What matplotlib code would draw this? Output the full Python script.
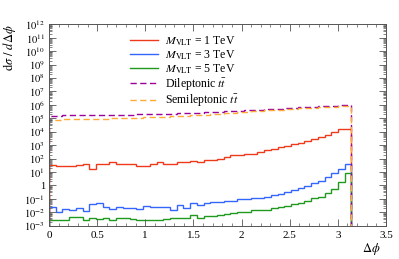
import matplotlib
matplotlib.use("Agg")
import matplotlib.pyplot as plt
import matplotlib.ticker as mticker
import numpy as np

plt.rcParams['font.family'] = ['Liberation Serif', 'DejaVu Serif']
plt.rcParams['mathtext.fontset'] = 'stix'

# 45 bins of delta phi between 0 and pi
n_bins = 45
phi_max = np.pi

vlt_1tev = [35, 27, 27, 27, 33, 38, 18, 42, 42, 53,
            38, 42, 42, 27, 30, 42, 53, 42, 42, 56,
            60, 66, 59, 80, 80, 100, 138, 178, 178, 234,
            209, 324, 437, 550, 692, 912, 1230, 1510, 2140, 2750,
            4270, 6030, 10000, 15100, 15100]
vlt_3tev = [0.023, 0.011, 0.017, 0.015, 0.022, 0.013, 0.042, 0.047, 0.026, 0.018,
            0.023, 0.020, 0.020, 0.018, 0.031, 0.023, 0.023, 0.023, 0.015, 0.035,
            0.020, 0.047, 0.035, 0.047, 0.056, 0.062, 0.074, 0.074, 0.093, 0.093,
            0.123, 0.123, 0.145, 0.195, 0.219, 0.35, 0.46, 0.68, 0.91, 1.45,
            2.24, 4.1, 7.9, 17, 40]
vlt_5tev = [0.0027, 0.0025, 0.0025, 0.0047, 0.0042, 0.0027, 0.0035, 0.0032, 0.0035, 0.0027,
            0.0040, 0.0035, 0.0030, 0.0028, 0.0028, 0.0027, 0.0027, 0.0030, 0.0035, 0.0040,
            0.0040, 0.0063, 0.0040, 0.0052, 0.0056, 0.0063, 0.0071, 0.0085, 0.011, 0.011,
            0.015, 0.015, 0.015, 0.020, 0.023, 0.031, 0.040, 0.052, 0.074, 0.11,
            0.145, 0.26, 0.55, 1.9, 7.9]
dileptonic = [1.60e5, 1.60e5, 1.62e5, 1.65e5, 1.66e5, 1.68e5, 1.70e5, 1.72e5, 1.75e5, 1.78e5,
              1.82e5, 1.86e5, 1.90e5, 1.95e5, 2.00e5, 2.05e5, 2.10e5, 2.15e5, 2.20e5, 2.30e5,
              2.40e5, 2.50e5, 2.60e5, 2.75e5, 2.90e5, 3.05e5, 3.20e5, 3.40e5, 3.60e5, 3.80e5,
              4.10e5, 4.40e5, 4.70e5, 5.00e5, 5.30e5, 5.60e5, 6.00e5, 6.40e5, 6.80e5, 7.30e5,
              7.80e5, 8.30e5, 8.90e5, 9.60e5, 10.3e5]
semileptonic = [0.80e5, 0.81e5, 0.82e5, 0.84e5, 0.86e5, 0.88e5, 0.90e5, 0.93e5, 0.96e5, 0.99e5,
                1.02e5, 1.05e5, 1.08e5, 1.12e5, 1.15e5, 1.19e5, 1.23e5, 1.30e5, 1.38e5, 1.46e5,
                1.55e5, 1.65e5, 1.75e5, 1.87e5, 2.00e5, 2.15e5, 2.30e5, 2.50e5, 2.70e5, 2.95e5,
                3.20e5, 3.50e5, 3.80e5, 4.10e5, 4.40e5, 4.75e5, 5.10e5, 5.40e5, 5.80e5, 6.20e5,
                6.60e5, 7.00e5, 7.50e5, 8.00e5, 8.40e5]

labels = [r'$M_{\mathrm{VLT}}$ = 1 TeV', r'$M_{\mathrm{VLT}}$ = 3 TeV', r'$M_{\mathrm{VLT}}$ = 5 TeV',
          r'Dileptonic $t\bar{t}$', r'Semileptonic $t\bar{t}$']
colors = ['#ee3a1a', '#3366ff', '#1f9a1f', '#990099', '#ffaa33']

edges = np.linspace(0, phi_max, n_bins + 1)

fig = plt.figure(figsize=(3.99, 2.59), dpi=100)
ax = fig.add_axes([0.1228, 0.1286, 0.8446, 0.7776])

series = [vlt_1tev, vlt_3tev, vlt_5tev, dileptonic, semileptonic]
for k, vals in enumerate(series):
    ls = '-' if k < 3 else (0, (4.5, 2.5))
    ax.stairs(vals, edges, baseline=1e-6, color=colors[k], lw=1.0, linestyle=ls, label=labels[k])

ax.set_yscale('log')
ax.set_ylim(1e-3, 1e12)
ax.set_xlim(0, 3.5)

ax.yaxis.set_major_locator(mticker.LogLocator(base=10, numticks=20))
ax.yaxis.set_minor_locator(mticker.LogLocator(base=10, subs=np.arange(2, 10), numticks=200))
ax.yaxis.set_minor_formatter(mticker.NullFormatter())


def ylab(v, pos):
    e = int(round(np.log10(v)))
    return '1' if e == 0 else r'$10^{%d}$' % e


ax.yaxis.set_major_formatter(mticker.FuncFormatter(ylab))
ax.xaxis.set_major_locator(mticker.MultipleLocator(0.5))
ax.xaxis.set_minor_locator(mticker.MultipleLocator(0.1))
ax.xaxis.set_major_formatter(mticker.FuncFormatter(lambda v, p: '%g' % v))

ax.tick_params(which='both', direction='in', top=True, right=True, color='#555555')
ax.tick_params(axis='x', labelsize=8)
ax.tick_params(axis='y', labelsize=7.5, pad=3)
ax.tick_params(which='major', length=5, width=0.6)
ax.tick_params(which='minor', length=2.5, width=0.5)
for s in ax.spines.values():
    s.set_color('#555555')
    s.set_linewidth(0.7)

ax.set_ylabel(r'$\mathrm{d}\sigma\ /\ d\Delta\phi$', fontsize=9, loc='top')
ax.set_xlabel(r'$\Delta\phi$', fontsize=9)
ax.xaxis.set_label_coords(0.955, -0.075)

ax.legend(loc='upper left', bbox_to_anchor=(0.225, 0.975), frameon=False, fontsize=8.5,
          handlelength=2.4, handletextpad=0.6, labelspacing=0.05, borderaxespad=0)

fig.savefig('out.png', dpi=100)
